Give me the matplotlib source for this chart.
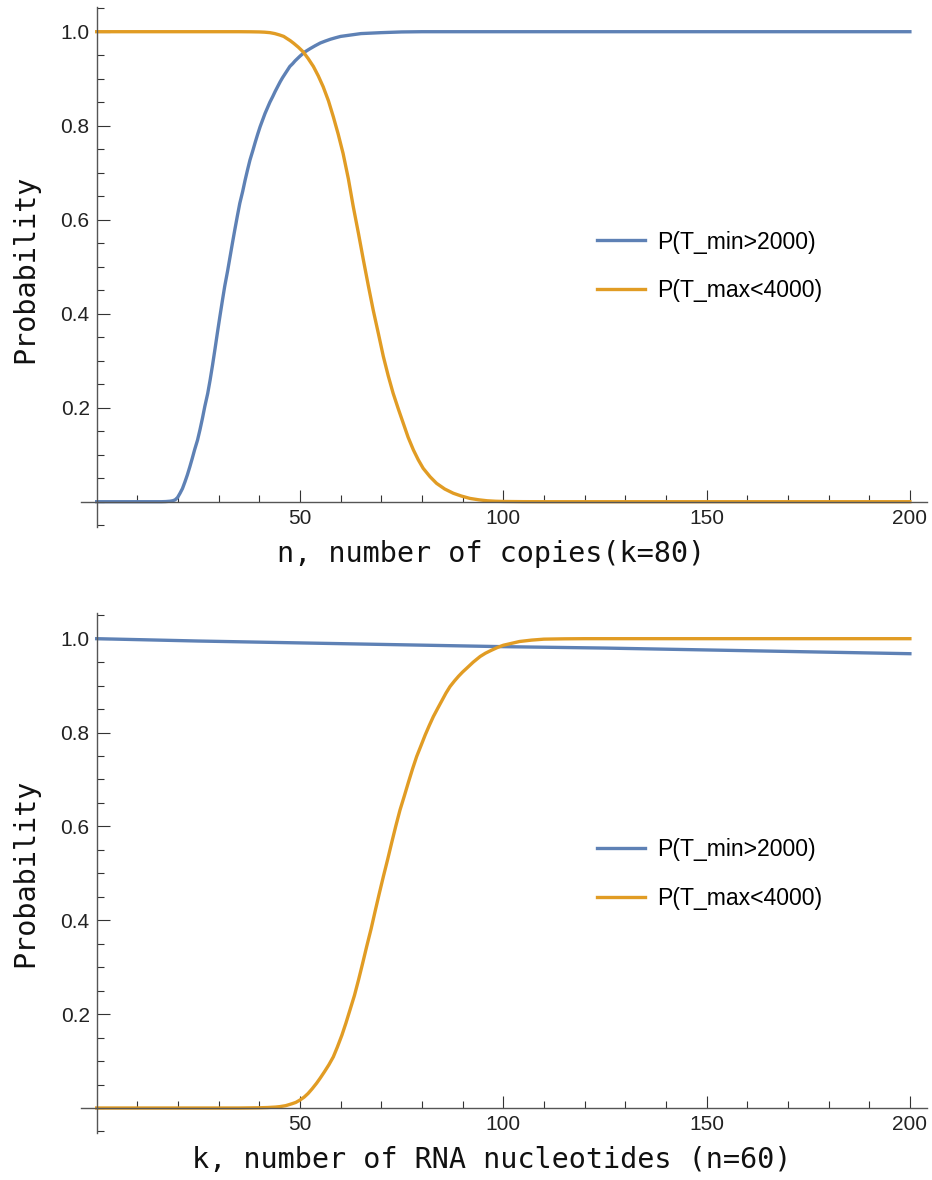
import numpy as np
import matplotlib
matplotlib.use("Agg")
import matplotlib.pyplot as plt
from matplotlib.ticker import FixedLocator

plt.rcParams['font.family'] = ['Liberation Sans', 'DejaVu Sans']

# values
# top panel: probability vs n (copies), k = 80
n_min = [0, 10, 16, 17, 18, 18.7, 19.3, 19.9, 20.5, 21.1, 21.7, 22.3, 22.9, 23.5, 24.1, 24.8,
         25.4, 26.0, 26.6, 27.3, 27.9, 28.5, 29.1, 29.7, 30.3, 30.9, 31.5, 32.2, 32.8, 33.4,
         34.0, 34.6, 35.2, 35.9, 36.5, 37.1, 37.7, 38.4, 39.0, 39.6, 40.2, 40.8, 41.4, 42.0,
         42.6, 43.3, 43.9, 44.5, 45.1, 45.7, 46.3, 46.9, 47.5, 48.2, 48.8, 49.4, 50.0, 51.2,
         52.5, 53.7, 55.0, 56.2, 57.5, 58.7, 60.0, 62.5, 65.0, 67.5, 70.0, 75.0, 80.0, 100,
         150, 200]
p_min_n = [0, 0, 0, 0.0003, 0.001, 0.002, 0.004, 0.009, 0.018, 0.028, 0.042, 0.057, 0.074,
           0.092, 0.111, 0.131, 0.153, 0.177, 0.203, 0.230, 0.259, 0.291, 0.325, 0.360, 0.394,
           0.427, 0.459, 0.491, 0.521, 0.551, 0.580, 0.608, 0.635, 0.660, 0.684, 0.706, 0.727,
           0.747, 0.765, 0.782, 0.798, 0.812, 0.826, 0.838, 0.850, 0.862, 0.873, 0.883, 0.893,
           0.902, 0.910, 0.918, 0.926, 0.932, 0.938, 0.943, 0.948, 0.957, 0.964, 0.970, 0.976,
           0.980, 0.984, 0.987, 0.990, 0.993, 0.996, 0.997, 0.998, 0.9995, 1.0, 1.0, 1.0, 1.0]

n_max = [0, 20, 35, 38, 40, 41.3, 42.6, 43.8, 45.0, 46.0, 46.7, 47.6, 48.5, 49.6, 50.8, 52.0,
         53.3, 54.5, 55.7, 57.0, 58.2, 59.4, 60.6, 61.9, 63.1, 64.4, 65.6, 66.8, 68.0, 69.3,
         70.5, 71.7, 72.9, 74.2, 75.4, 76.6, 77.9, 79.1, 80.3, 82.0, 83.6, 85.6, 87.7, 89.7,
         91.8, 94.0, 96.0, 98.0, 100, 105, 110, 150, 200]
p_max_n = [1.0, 1.0, 1.0, 0.9998, 0.9995, 0.999, 0.998, 0.996, 0.993, 0.990, 0.986, 0.981,
           0.975, 0.967, 0.957, 0.943, 0.926, 0.906, 0.883, 0.853, 0.819, 0.782, 0.741, 0.687,
           0.628, 0.570, 0.514, 0.460, 0.408, 0.357, 0.309, 0.268, 0.231, 0.197, 0.167, 0.137,
           0.110, 0.089, 0.071, 0.053, 0.039, 0.027, 0.018, 0.012, 0.007, 0.004, 0.002, 0.001,
           0.0005, 0.0001, 0, 0, 0]

# bottom panel: probability vs k (RNA nucleotides), n = 60
k_min = [0, 25, 50, 75, 100, 125, 150, 175, 200]
p_min_k = [1.0, 0.995, 0.991, 0.987, 0.983, 0.980, 0.976, 0.972, 0.968]

k_max = [0, 20, 35, 40, 42, 44, 45.1, 46.5, 48, 49, 50, 51, 52, 53, 54.1, 55, 56, 57.1, 58.2,
         59.2, 60.3, 61.3, 62.3, 63.4, 64.4, 65.4, 66.4, 67.5, 68.5, 69.5, 70.5, 71.6, 72.6,
         73.6, 74.6, 75.7, 76.7, 77.7, 78.7, 79.8, 80.8, 81.8, 82.8, 83.9, 84.9, 85.9, 86.9,
         88, 89, 90, 91, 92.6, 94.3, 95.6, 97, 98.5, 100, 102, 104, 107, 110, 115, 120, 150, 200]
p_max_k = [0, 0, 0, 0.0005, 0.001, 0.002, 0.003, 0.005, 0.009, 0.012, 0.017, 0.023, 0.031,
           0.041, 0.053, 0.064, 0.077, 0.092, 0.109, 0.130, 0.155, 0.181, 0.209, 0.240, 0.273,
           0.308, 0.344, 0.382, 0.420, 0.457, 0.493, 0.531, 0.567, 0.602, 0.635, 0.666, 0.695,
           0.723, 0.749, 0.773, 0.795, 0.815, 0.834, 0.852, 0.868, 0.884, 0.898, 0.910, 0.920,
           0.929, 0.937, 0.950, 0.962, 0.969, 0.975, 0.981, 0.986, 0.990, 0.994, 0.997, 0.999,
           0.9997, 1.0, 1.0, 1.0]

labels = ["P(T_min>2000)", "P(T_max<4000)"]
blue = '#5E81B5'
orange = '#E19C24'

fig = plt.figure(figsize=(9.32, 11.8), dpi=100)
ax1 = fig.add_axes([0.08659, 0.55364, 0.9077, 0.44068])
ax2 = fig.add_axes([0.08659, 0.03958, 0.9077, 0.44068])

panels = [
    (ax1, n_min, p_min_n, n_max, p_max_n, (-0.0532, 1.0532), "n, number of copies(k=80)", 0.4856, 0.495, 0.501),
    (ax2, k_min, p_min_k, k_max, p_max_k, (-0.0539, 1.0541), "k, number of RNA nucleotides (n=60)", 0.4853, 0.5, 0.4986),
]

for ax, x1, y1, x2, y2, ylim, xlab, xlab_x, ylab_y, leg_y in panels:
    ax.plot(x1, y1, color=blue, lw=2.4, label=labels[0], solid_joinstyle='round')
    ax.plot(x2, y2, color=orange, lw=2.4, label=labels[1], solid_joinstyle='round')
    ax.set_xlim(-3.93, 204.13)
    ax.set_ylim(*ylim)

    for s in ['top', 'right']:
        ax.spines[s].set_visible(False)
    ax.spines['left'].set_position(('data', 0))
    ax.spines['bottom'].set_position(('data', 0))
    for s in ['left', 'bottom']:
        ax.spines[s].set_color('#555555')
        ax.spines[s].set_linewidth(1.0)

    ax.xaxis.set_major_locator(FixedLocator([50, 100, 150, 200]))
    ax.xaxis.set_minor_locator(FixedLocator([10 * i for i in range(1, 20) if i % 5]))
    ax.yaxis.set_major_locator(FixedLocator([0.2, 0.4, 0.6, 0.8, 1.0]))
    ax.yaxis.set_minor_locator(FixedLocator([round(-0.05 + 0.05 * i, 2) for i in range(23)]))
    ax.set_yticklabels(['0.2', '0.4', '0.6', '0.8', '1.0'])
    ax.tick_params(which='major', direction='in', length=9, width=0.8, color='#333333',
                   labelsize=15, labelcolor='#222222', pad=5)
    ax.tick_params(which='minor', direction='in', length=5, width=0.8, color='#333333')

    ax.text(xlab_x, -0.0673, xlab, transform=ax.transAxes, ha='center', va='baseline',
            family='DejaVu Sans Mono', fontsize=20.5, color='#111111')
    ax.text(-0.056, ylab_y, "Probability", transform=ax.transAxes, rotation=90,
            rotation_mode='anchor', ha='center', va='baseline',
            family='DejaVu Sans Mono', fontsize=20.5, color='#111111')

    ax.legend(loc='center left', bbox_to_anchor=(0.610, leg_y), frameon=False,
              fontsize=16.6, handlelength=2.08, handletextpad=0.52, labelspacing=1.1,
              borderpad=0, borderaxespad=0)

fig.savefig("out.png", dpi=100)
